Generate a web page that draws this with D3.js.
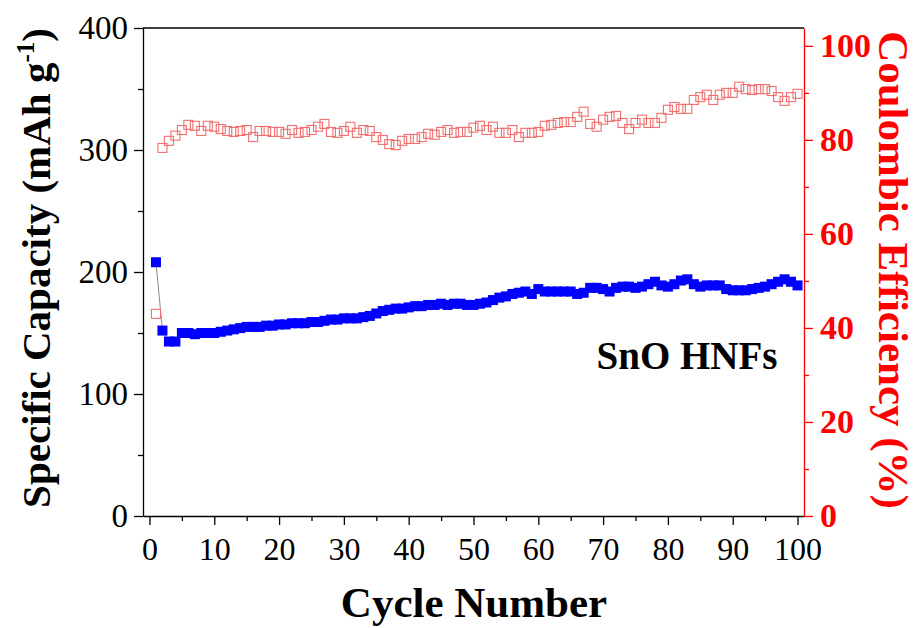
<!DOCTYPE html>
<html>
<head>
<meta charset="utf-8">
<script src="https://cdn.jsdelivr.net/npm/d3@7"></script>
<style>
  body { margin: 0; background: #fff; }
  text { font-family: "Liberation Serif", "Times New Roman", serif; }
</style>
</head>
<body>
<div id="chart"></div>
<script>

// cycle numbers 1..100
var cycles = d3.range(1, 101);

// specific capacity (mAh g-1)
var capacity = [
  208, 152, 143, 143, 150, 150, 149, 150, 150, 150,
  151, 152, 153, 154, 155, 155, 155, 156, 156, 157,
  157, 158, 158, 158, 159, 159, 160, 161, 161, 162,
  162, 162, 163, 164, 166, 168, 169, 170, 170, 171,
  172, 172, 173, 173, 174, 173, 174, 174, 173, 173,
  174, 175, 177, 179, 180, 182, 183, 184, 182, 186,
  184, 184, 184, 184, 184, 182, 183, 187, 187, 186,
  184, 187, 188, 188, 187, 188, 190, 192, 189, 188,
  190, 193, 194, 190, 188, 189, 189, 189, 186, 185,
  185, 185, 186, 187, 188, 190, 192, 194, 192, 189
];

// coulombic efficiency (%)
var efficiency = [
  43.0, 78.3, 79.8, 80.9, 82.1, 83.2, 83.0, 81.9, 83.0, 82.8,
  82.3, 81.9, 81.7, 81.9, 82.1, 80.6, 81.9, 81.9, 81.7, 81.7,
  81.3, 82.1, 81.5, 81.7, 82.1, 82.8, 83.4, 81.7, 81.5, 81.9,
  82.8, 81.5, 82.1, 81.9, 80.6, 80.0, 79.1, 78.9, 79.8, 80.2,
  80.2, 80.6, 81.3, 81.1, 81.7, 82.1, 81.5, 81.7, 81.7, 82.6,
  83.0, 82.1, 82.8, 81.5, 81.5, 82.1, 80.6, 81.5, 81.5, 81.7,
  83.0, 83.2, 83.6, 83.8, 83.8, 84.9, 86.0, 83.4, 82.8, 84.3,
  84.9, 85.1, 83.6, 82.3, 83.6, 84.3, 83.6, 83.6, 84.7, 86.4,
  87.0, 86.6, 86.6, 88.5, 89.1, 89.6, 88.5, 89.6, 90.0, 90.0,
  91.3, 90.8, 90.6, 90.8, 90.8, 90.4, 89.1, 88.3, 89.1, 89.8
];

var xTicks = [0, 10, 20, 30, 40, 50, 60, 70, 80, 90, 100];
var yLeftTicks = [0, 100, 200, 300, 400];
var yRightTicks = [0, 20, 40, 60, 80, 100];

draw();

function draw() {
    var W = 919, H = 628;
    var left = 143, right = 804, top = 28, bottom = 516;
    var red = '#ff0000';

    let svg = d3.select('#chart').append('svg')
        .attr('width', W)
        .attr('height', H);

    let xScale = d3.scaleLinear().domain([-1, 101]).range([left, right]);
    let yLeft  = d3.scaleLinear().domain([0, 400]).range([bottom, top]);
    let yRight = d3.scaleLinear().domain([0, 103.8]).range([bottom, top]);

    // bottom axis
    let xAxis = svg.append('g')
        .attr('transform', 'translate(0,' + bottom + ')')
        .call(d3.axisBottom(xScale).tickValues(xTicks).tickSize(9).tickSizeOuter(0).tickPadding(12));
    svg.append('g')
        .attr('transform', 'translate(0,' + bottom + ')')
        .call(d3.axisBottom(xScale).tickValues(d3.range(5, 100, 10)).tickSize(5).tickFormat('').tickSizeOuter(0))
        .select('.domain').remove();
    xAxis.selectAll('text').attr('font-size', 32).attr('fill', '#000');

    // top frame
    svg.append('line')
        .attr('x1', left).attr('x2', right)
        .attr('y1', top).attr('y2', top)
        .attr('stroke', '#000').attr('stroke-width', 1.3);

    // left axis
    let yAxisL = svg.append('g')
        .attr('transform', 'translate(' + left + ',0)')
        .call(d3.axisLeft(yLeft).tickValues(yLeftTicks).tickSize(9).tickSizeOuter(0).tickPadding(6));
    svg.append('g')
        .attr('transform', 'translate(' + left + ',0)')
        .call(d3.axisLeft(yLeft).tickValues([50, 150, 250, 350]).tickSize(5).tickFormat('').tickSizeOuter(0))
        .select('.domain').remove();
    yAxisL.selectAll('text').attr('font-size', 33).attr('fill', '#000');

    // right axis in red
    let yAxisR = svg.append('g')
        .attr('transform', 'translate(' + right + ',0)')
        .call(d3.axisRight(yRight).tickValues(yRightTicks).tickSize(9).tickSizeOuter(0).tickPadding(7));
    let yAxisRMinor = svg.append('g')
        .attr('transform', 'translate(' + right + ',0)')
        .call(d3.axisRight(yRight).tickValues(d3.range(10, 101, 20)).tickSize(5).tickFormat('').tickSizeOuter(0));
    yAxisRMinor.select('.domain').remove();
    yAxisRMinor.selectAll('line').attr('stroke', red);
    yAxisR.select('.domain').attr('stroke', red);
    yAxisR.selectAll('line').attr('stroke', red);
    yAxisR.selectAll('text').attr('font-size', 34).attr('font-weight', 'bold').attr('fill', red);

    svg.selectAll('.domain').attr('stroke-width', 1.3);
    svg.selectAll('.tick line').attr('stroke-width', 1.3);

    // thin grey line through capacity points
    let capData = cycles.map((c, i) => ({ c: c, v: capacity[i] }));
    let ceData  = cycles.map((c, i) => ({ c: c, v: efficiency[i] }));

    svg.append('path')
        .datum(capData)
        .attr('fill', 'none')
        .attr('stroke', '#888')
        .attr('stroke-width', 1)
        .attr('d', d3.line().x(d => xScale(d.c)).y(d => yLeft(d.v)));

    // coulombic efficiency: open red squares
    let s2 = 9;
    svg.append('g').selectAll('rect').data(ceData).enter().append('rect')
        .attr('x', d => xScale(d.c) - s2 / 2)
        .attr('y', d => yRight(d.v) - s2 / 2)
        .attr('width', s2).attr('height', s2)
        .attr('fill', 'none')
        .attr('stroke', '#f07070')
        .attr('stroke-width', 1.1);

    // capacity: filled blue squares
    let s1 = 10;
    svg.append('g').selectAll('rect').data(capData).enter().append('rect')
        .attr('x', d => xScale(d.c) - s1 / 2)
        .attr('y', d => yLeft(d.v) - s1 / 2)
        .attr('width', s1).attr('height', s1)
        .attr('fill', '#0000ff');

    // axis titles
    let tl = svg.append('text')
        .attr('transform', 'translate(50,' + 268 + ') rotate(-90)')
        .attr('text-anchor', 'middle')
        .attr('font-size', 41)
        .attr('font-weight', 'bold')
        .attr('fill', '#000');
    tl.append('tspan').text('Specific Capacity (mAh g');
    tl.append('tspan').text('-1').attr('font-size', 25).attr('baseline-shift', '65%');
    tl.append('tspan').text(')');

    svg.append('text')
        .attr('transform', 'translate(879,' + 270 + ') rotate(90)')
        .attr('text-anchor', 'middle')
        .attr('font-size', 43)
        .attr('font-weight', 'bold')
        .attr('fill', red)
        .text('Coulombic Efficiency (%)');

    svg.append('text')
        .attr('x', 474)
        .attr('y', 617)
        .attr('text-anchor', 'middle')
        .attr('font-size', 43)
        .attr('font-weight', 'bold')
        .attr('fill', '#000')
        .text('Cycle Number');

    svg.append('text')
        .attr('x', 687)
        .attr('y', 369)
        .attr('text-anchor', 'middle')
        .attr('font-size', 39)
        .attr('font-weight', 'bold')
        .attr('fill', '#000')
        .text('SnO HNFs');
}
</script>
</body>
</html>
